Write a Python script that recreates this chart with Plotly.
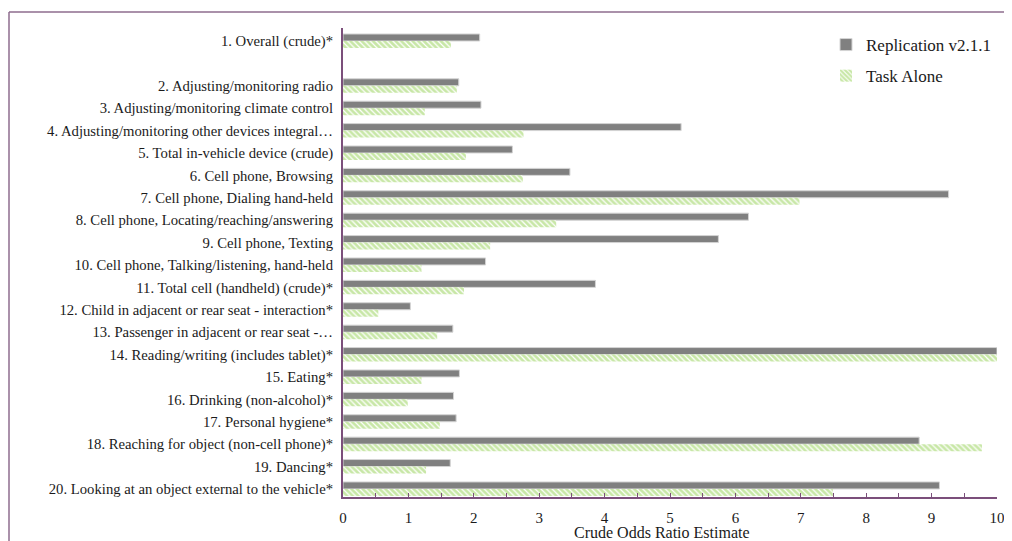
import plotly.graph_objects as go

categories = [
    "1. Overall (crude)*",
    " ",
    "2. Adjusting/monitoring radio",
    "3. Adjusting/monitoring climate control",
    "4. Adjusting/monitoring other devices integral…",
    "5. Total in-vehicle device (crude)",
    "6. Cell phone, Browsing",
    "7. Cell phone, Dialing hand-held",
    "8. Cell phone, Locating/reaching/answering",
    "9. Cell phone, Texting",
    "10. Cell phone, Talking/listening, hand-held",
    "11. Total cell (handheld) (crude)*",
    "12. Child in adjacent or rear seat - interaction*",
    "13. Passenger in adjacent or rear seat -…",
    "14. Reading/writing (includes tablet)*",
    "15. Eating*",
    "16. Drinking (non-alcohol)*",
    "17. Personal hygiene*",
    "18. Reaching for object (non-cell phone)*",
    "19. Dancing*",
    "20. Looking at an object external to the vehicle*",
]

replication = [2.09, None, 1.77, 2.11, 5.17, 2.59, 3.47, 9.26, 6.20, 5.74, 2.18,
               3.86, 1.03, 1.68, 10.0, 1.78, 1.69, 1.73, 8.81, 1.64, 9.12]
task_alone = [1.65, None, 1.74, 1.25, 2.76, 1.88, 2.75, 6.98, 3.26, 2.25, 1.20,
              1.85, 0.54, 1.44, 10.0, 1.20, 0.99, 1.48, 9.77, 1.27, 7.49]

x_ticks = list(range(0, 11))

FONT = "Liberation Serif"
AXIS_COLOR = "#7b4f7b"
FRAME_COLOR = "#8e6c8e"

fig = go.Figure()
fig.add_trace(go.Bar(
    y=categories, x=replication, orientation="h", name="Replication v2.1.1",
    marker=dict(color="#808080", line=dict(color="#d4d4d4", width=1)),
    legendgroup="a",
))
fig.add_trace(go.Bar(
    y=categories, x=task_alone, orientation="h", name="Task Alone",
    marker=dict(color="#ffffff", line=dict(width=0),
                pattern=dict(shape="\\", fgcolor="#92d050", bgcolor="#ffffff",
                             size=4, solidity=0.7, fillmode="overlay")),
    legendgroup="b",
))

# page is offset by 8px body margin
OFF = 8
W, H = 1012 - OFF, 541 - OFF
L, R, T, B = 343 - OFF, 997 - OFF, 28 - OFF, 497 - OFF

px2x = lambda p: (p - OFF - L) / (R - L)
py2y = lambda p: (B - (p - OFF)) / (B - T)

fig.update_layout(
    width=W, height=H,
    margin=dict(l=L, r=W - R, t=T, b=H - B, autoexpand=False),
    paper_bgcolor="white", plot_bgcolor="white",
    barmode="group", bargap=0.375, bargroupgap=0,
    font=dict(family=FONT, size=14.7, color="#1a1a1a"),
    showlegend=True,
    legend=dict(x=px2x(826), y=py2y(27), xanchor="left", yanchor="top",
                font=dict(size=17, family=FONT), bgcolor="rgba(0,0,0,0)",
                traceorder="grouped", tracegroupgap=6, itemwidth=30),
    xaxis=dict(
        range=[0, 10], tickvals=x_ticks, ticktext=[str(v) for v in x_ticks],
        showgrid=False, zeroline=False,
        showline=True, linecolor=AXIS_COLOR, linewidth=1.5,
        ticks="inside", ticklen=4, tickcolor=AXIS_COLOR, tickwidth=1,
        minor=dict(dtick=0.5, ticks="inside", ticklen=4, tickcolor=AXIS_COLOR, tickwidth=1, showgrid=False),
        tickfont=dict(size=15, family=FONT), ticklabelstandoff=6,
    ),
    yaxis=dict(
        categoryorder="array", categoryarray=categories,
        range=[20.36, -0.58],
        showgrid=False, zeroline=False,
        showline=True, linecolor=AXIS_COLOR, linewidth=2,
        ticks="", tickfont=dict(size=14.7, family=FONT), ticklabelstandoff=5,
    ),
)

fig.add_annotation(
    text="Crude Odds Ratio Estimate", xref="paper", yref="paper",
    x=px2x(662), y=py2y(532), xanchor="center", yanchor="middle",
    showarrow=False, font=dict(size=16, family=FONT, color="#1a1a1a"),
)

# outer frame (chart border), partially visible at top and left
fig.add_shape(type="line", xref="paper", yref="paper",
              x0=px2x(9), x1=px2x(1030), y0=py2y(12), y1=py2y(12),
              line=dict(color=FRAME_COLOR, width=1.5))
fig.add_shape(type="line", xref="paper", yref="paper",
              x0=px2x(9), x1=px2x(9), y0=py2y(12), y1=py2y(560),
              line=dict(color=FRAME_COLOR, width=1.5))

fig.write_html("out.html")
